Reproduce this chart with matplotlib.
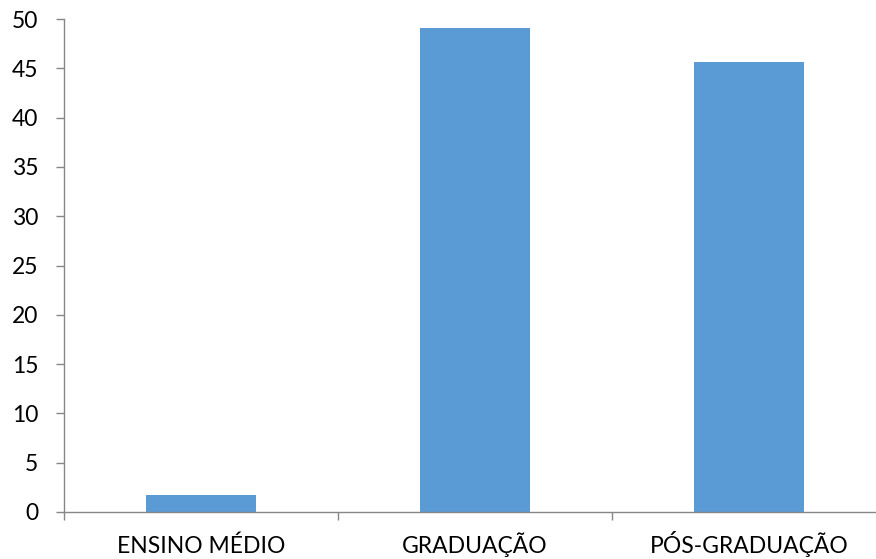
import matplotlib
matplotlib.use("Agg")
import matplotlib.pyplot as plt
from matplotlib.ticker import FixedLocator, NullFormatter, FixedFormatter

categories = ["ENSINO MÉDIO", "GRADUAÇÃO", "PÓS-GRADUAÇÃO"]
values = [1.72, 49.1, 45.6]
yticks = [0, 5, 10, 15, 20, 25, 30, 35, 40, 45, 50]

plt.rcParams['font.family'] = ['Lato', 'DejaVu Sans']

W, H = 876, 559
fig = plt.figure(figsize=(W / 100, H / 100), dpi=100)
ax = fig.add_axes([64 / W, (H - 512) / H, (886 - 64) / W, (512 - 19) / H])

pos = [i + 0.5 for i in range(len(categories))]
ax.bar(pos, values, width=0.4, color='#5B9BD5', zorder=2)

ax.set_xlim(0, len(categories))
ax.set_ylim(0, 50)

axis_color = '#868686'
for s in ['top', 'right']:
    ax.spines[s].set_visible(False)
for s in ['left', 'bottom']:
    ax.spines[s].set_color(axis_color)
    ax.spines[s].set_linewidth(1.0)

ax.set_yticks(yticks)
ax.set_yticklabels([str(v) for v in yticks])
ax.tick_params(axis='y', direction='out', length=5.5, width=1, color=axis_color,
               labelsize=16.5, pad=13, labelcolor='black')

ax.xaxis.set_major_locator(FixedLocator(list(range(len(categories) + 1))))
ax.xaxis.set_major_formatter(NullFormatter())
ax.xaxis.set_minor_locator(FixedLocator(pos))
ax.xaxis.set_minor_formatter(FixedFormatter(categories))
ax.tick_params(axis='x', which='major', direction='out', length=5.5, width=1, color=axis_color)
ax.tick_params(axis='x', which='minor', length=0, labelsize=16.5, pad=29.5, labelcolor='black')
for lbl in ax.xaxis.get_minorticklabels():
    lbl.set_verticalalignment('baseline')

fig.savefig('out.png', dpi=100)
